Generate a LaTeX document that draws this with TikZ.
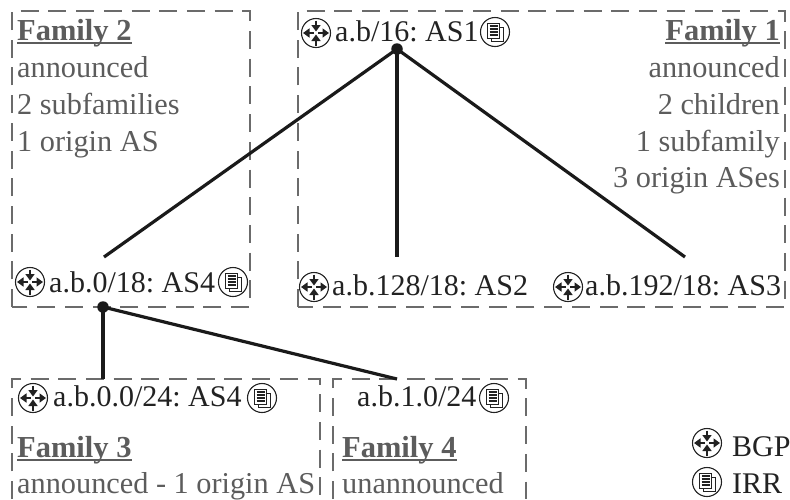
\documentclass[tikz,border=0pt]{standalone}
\usepackage{fontspec}
\setmainfont{Liberation Serif}
\usetikzlibrary{arrows.meta}
\definecolor{fam}{HTML}{5C5C5C}
\definecolor{ink}{HTML}{222222}
\definecolor{edge}{HTML}{1A1A1A}
\newcommand{\famhead}[1]{\setbox0=\hbox{\fontsize{30.5}{37}\selectfont\textbf{#1}}\rlap{\rule[-3.6pt]{\wd0}{1.5pt}}\box0}
\tikzset{
  x=1pt,y=-1pt,
  boxline/.style={draw=black!58,line width=1.1pt,dash pattern=on 18pt off 9.7pt},
  famtext/.style={text=fam,font=\fontsize{30.3}{37}\selectfont\frenchspacing,inner sep=0pt},
  preftext/.style={text=ink,font=\fontsize{30}{37}\selectfont\frenchspacing,inner sep=0pt,anchor=base west},
  edgeline/.style={draw=edge,line width=3.2pt},
  dotnode/.style={circle,fill=edge,inner sep=0pt,minimum size=11.5pt},
  bgp/.pic={
    \draw[ink,line width=1.1pt] (0,0) circle[radius=14.5];
    \foreach \a in {90,270}{\draw[ink,line width=1.9pt,-{Triangle[length=6.5pt,width=9pt]}] (\a:12.5) -- (\a:1.5);}
    \foreach \a in {0,180}{\draw[ink,line width=1.9pt,-{Triangle[length=6.5pt,width=9pt]}] (\a:2) -- (\a:13);}
  },
  irr/.pic={
    \draw[ink,line width=1.1pt] (0,0) circle[radius=14.5];
    \draw[ink,line width=1pt,fill=white] (-4,-5) rectangle (8,9);
    \draw[ink,line width=1pt,fill=white] (-7.5,-9) rectangle (4.5,6);
    \foreach \yy in {-6,-3,0,3}{\draw[ink,line width=1.2pt] (-5.5,\yy) -- (2.5,\yy);}
  }
}
\begin{document}
\begin{tikzpicture}
\useasboundingbox (0,0) rectangle (790,499);
\path[boxline] (12,307) -- (12,11) -- (250,11) -- (250,307) -- cycle;
\path[boxline] (298,307) -- (298,11) -- (785,11) -- (785,307) -- cycle;
\path[boxline] (12,499) -- (12,379) -- (320,379) -- (320,499);
\path[boxline] (333,499) -- (333,379) -- (526,379) -- (526,499);
\node[famtext,anchor=base west] (f2) at (17,40) {\famhead{Family 2}};
\node[famtext,anchor=base west] (f2a) at (17,77) {announced};
\node[famtext,anchor=base west] (f2b) at (17,114) {2 subfamilies};
\node[famtext,anchor=base west] (f2c) at (17,151) {1 origin AS};
\node[famtext,anchor=base east] (f1) at (780,40) {\famhead{Family 1}};
\node[famtext,anchor=base east] (f1a) at (780,77) {announced};
\node[famtext,anchor=base east] (f1b) at (780,114) {2 children};
\node[famtext,anchor=base east] (f1c) at (780,151) {1 subfamily};
\node[famtext,anchor=base east] (f1d) at (780,187) {3 origin ASes};
\node[famtext,anchor=base west] (f3) at (17,457) {\famhead{Family 3}};
\node[famtext,anchor=base west] (f3a) at (17,493) {announced - 1 origin AS};
\node[famtext,anchor=base west] (f4) at (342,457) {\famhead{Family 4}};
\node[famtext,anchor=base west] (f4a) at (342,493) {unannounced};
\node[preftext] (p1) at (335,41) {a.b/16: AS1};
\node[preftext] (p4) at (49,292) {a.b.0/18: AS4};
\node[preftext] (p2) at (332,295) {a.b.128/18: AS2};
\node[preftext] (p3) at (585,295) {a.b.192/18: AS3};
\node[preftext] (p5) at (53,406) {a.b.0.0/24: AS4};
\node[preftext] (p6) at (357,406) {a.b.1.0/24};
\node[preftext] (lb) at (732,456) {BGP};
\node[preftext] (li) at (732,493) {IRR};
\pic at (316,33) {bgp};
\pic at (495,32) {irr};
\pic at (30,282) {bgp};
\pic at (233,282) {irr};
\pic at (314,287) {bgp};
\pic at (568,287) {bgp};
\pic at (33,398) {bgp};
\pic at (262,398) {irr};
\pic at (494,398) {irr};
\pic at (707,443) {bgp};
\pic at (707,482) {irr};
\node[dotnode] (d1) at (397,49) {};
\node[dotnode] (d2) at (103,307) {};
\coordinate (e4) at (104,257);
\coordinate (e2) at (397,257);
\coordinate (e3) at (685,257);
\coordinate (e5) at (103,379);
\coordinate (e6) at (397,379);
\draw[edgeline] (d1.center) -- (e4);
\draw[edgeline] (d1.center) -- (e2);
\draw[edgeline] (d1.center) -- (e3);
\draw[edgeline] (d2.center) -- (e5);
\draw[edgeline] (d2.center) -- (e6);
\end{tikzpicture}
\end{document}
